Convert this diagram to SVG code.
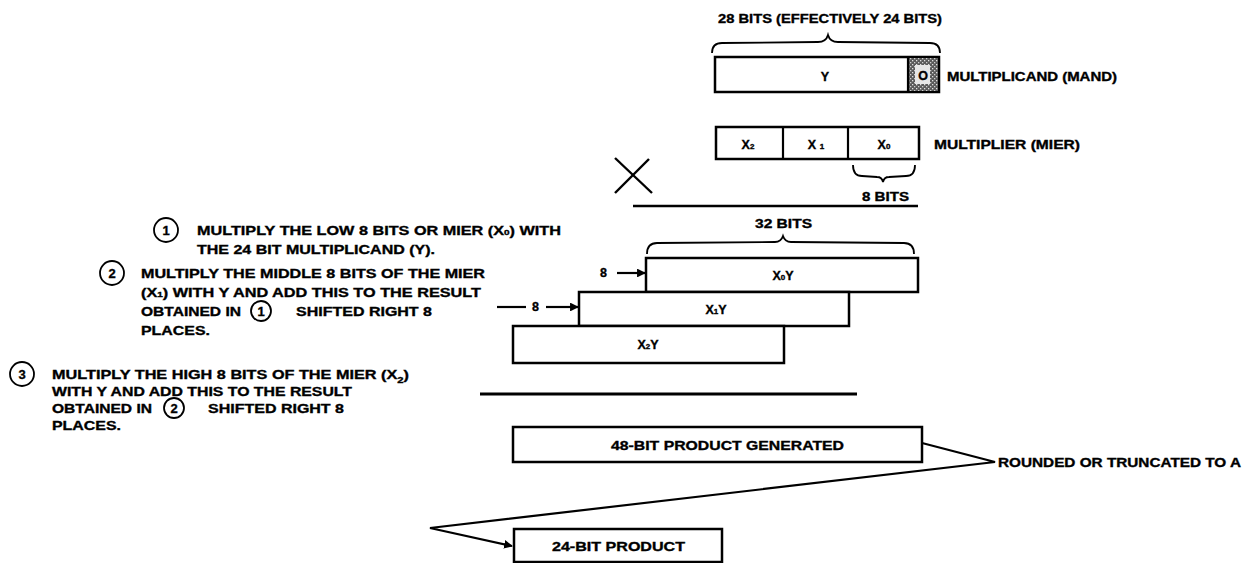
<svg xmlns="http://www.w3.org/2000/svg" width="1250" height="563" viewBox="0 0 1250 563">
<defs>
<style>
text{font-family:"Liberation Sans",Arial,sans-serif;font-weight:bold;font-size:13px;fill:#000;stroke:#000;stroke-width:0.35}
.lbl{font-size:12.5px}
.box{fill:#fff;stroke:#000;stroke-width:2.5}
.ln{fill:none;stroke:#000;stroke-width:2.2}
.thin{fill:none;stroke:#000;stroke-width:1.8}
.circ{fill:#fff;stroke:#000;stroke-width:1.8}
.mid{text-anchor:middle}
</style>
<marker id="ah" viewBox="0 0 10 10" refX="9" refY="5" markerWidth="4" markerHeight="4" orient="auto" markerUnits="strokeWidth">
<path d="M0,0 L10,5 L0,10 Z" fill="#000"/>
</marker>
<pattern id="stip" width="4" height="4" patternUnits="userSpaceOnUse">
<rect width="4" height="4" fill="#5a5a5a"/>
<rect x="0" y="0" width="1.3" height="1.3" fill="#e0e0e0"/>
<rect x="2" y="2" width="1.3" height="1.3" fill="#cfcfcf"/>
</pattern>
</defs>
<rect width="1250" height="563" fill="#fff"/>

<g id="mand">
<text class="lbl" x="718" y="23" textLength="224" lengthAdjust="spacingAndGlyphs">28 BITS (EFFECTIVELY 24 BITS)</text>
<path class="thin" d="M712,53 Q712,43 722,43 L818,42 Q826,42 828,35 Q830,42 838,42 L930,43 Q940,43 940,53"/>
<rect class="box" x="715" y="57" width="224" height="35"/>
<rect x="908" y="58" width="30" height="33" fill="url(#stip)"/>
<line class="ln" x1="908" y1="57" x2="908" y2="92"/>
<rect x="915" y="65" width="15" height="19" fill="#e6e6e6"/>
<text class="lbl mid" x="825" y="81">Y</text>
<text class="lbl mid" x="923" y="80">O</text>
<text class="lbl" x="947" y="81" textLength="170" lengthAdjust="spacingAndGlyphs">MULTIPLICAND (MAND)</text>
</g>

<g id="mier">
<rect class="box" x="716" y="127" width="203" height="32"/>
<line class="ln" x1="783" y1="127" x2="783" y2="159"/>
<line class="ln" x1="848" y1="127" x2="848" y2="159"/>
<text class="lbl mid" x="748" y="149">X<tspan font-size="8">2</tspan></text>
<text class="lbl mid" x="816" y="149">X <tspan font-size="8">1</tspan></text>
<text class="lbl mid" x="884" y="149">X<tspan font-size="8">0</tspan></text>
<text class="lbl" x="934" y="149" textLength="146" lengthAdjust="spacingAndGlyphs">MULTIPLIER (MIER)</text>
<path class="thin" d="M853,165 Q853,176 862,176 L877,177 Q882,177 883,182 Q884,177 889,177 L906,176 Q915,176 915,165"/>
<text class="lbl" x="862" y="201" textLength="47" lengthAdjust="spacingAndGlyphs">8 BITS</text>
</g>

<g id="times">
<line x1="615" y1="158" x2="652" y2="193" stroke="#000" stroke-width="2.4"/>
<line x1="649" y1="159" x2="615" y2="193" stroke="#000" stroke-width="2.4"/>
<line x1="633" y1="206" x2="918" y2="206" stroke="#000" stroke-width="2.6"/>
</g>

<g id="x0y">
<text class="lbl" x="755" y="228" textLength="57" lengthAdjust="spacingAndGlyphs">32 BITS</text>
<path class="thin" d="M647,254 Q647,243 657,243 L775,242 Q781,242 783,236 Q785,242 791,242 L904,243 Q914,243 914,254"/>
<rect class="box" x="646" y="258" width="272" height="34"/>
<text class="lbl mid" x="783" y="280">X<tspan font-size="8">0</tspan>Y</text>
</g>

<g id="x1y">
<rect class="box" x="579" y="292" width="270" height="34"/>
<text class="lbl mid" x="716" y="314">X<tspan font-size="8">1</tspan>Y</text>
</g>

<g id="x2y">
<rect class="box" x="513" y="326" width="271" height="37"/>
<text class="lbl mid" x="648" y="349">X<tspan font-size="8">2</tspan>Y</text>
</g>

<g id="sum-line">
<line x1="480" y1="394" x2="857" y2="394" stroke="#000" stroke-width="2.8"/>
</g>

<g id="p48">
<rect class="box" x="513" y="427" width="409" height="35"/>
<text class="lbl" x="611" y="450" textLength="233" lengthAdjust="spacingAndGlyphs">48-BIT PRODUCT GENERATED</text>
</g>

<g id="round-label">
<text class="lbl" x="998" y="467" textLength="243" lengthAdjust="spacingAndGlyphs">ROUNDED OR TRUNCATED TO A</text>
</g>

<g id="p24">
<rect class="box" x="514" y="529" width="208" height="33"/>
<text class="lbl" x="552" y="551" textLength="133" lengthAdjust="spacingAndGlyphs">24-BIT PRODUCT</text>
</g>

<g id="connectors">
<text class="lbl" x="600" y="277">8</text>
<line class="ln" x1="617" y1="273" x2="645" y2="273" marker-end="url(#ah)"/>
<line class="ln" x1="497" y1="307" x2="526" y2="307"/>
<text class="lbl" x="532" y="311">8</text>
<line class="ln" x1="546" y1="307" x2="578" y2="307" marker-end="url(#ah)"/>
<polyline class="ln" points="922,443 995,462 430,528 512,546" marker-end="url(#ah)"/>
</g>

<g id="step1">
<circle class="circ" cx="166" cy="230" r="12"/>
<text class="mid" x="166" y="235" font-size="12">1</text>
<text x="197" y="235" textLength="364" lengthAdjust="spacingAndGlyphs">MULTIPLY THE LOW 8 BITS OR MIER (X<tspan font-size="8">0</tspan>) WITH</text>
<text x="197" y="254" textLength="238" lengthAdjust="spacingAndGlyphs">THE 24 BIT MULTIPLICAND (Y).</text>
</g>

<g id="step2">
<circle class="circ" cx="112" cy="273" r="12"/>
<text class="mid" x="112" y="278" font-size="12">2</text>
<text x="141" y="278" textLength="344" lengthAdjust="spacingAndGlyphs">MULTIPLY THE MIDDLE 8 BITS OF THE MIER</text>
<text x="141" y="297" textLength="340" lengthAdjust="spacingAndGlyphs">(X<tspan font-size="8">1</tspan>) WITH Y AND ADD THIS TO THE RESULT</text>
<text x="141" y="316" textLength="100" lengthAdjust="spacingAndGlyphs">OBTAINED IN</text>
<circle class="circ" cx="261" cy="311" r="10"/>
<text class="mid" x="261" y="316" font-size="11">1</text>
<text x="296" y="316" textLength="136" lengthAdjust="spacingAndGlyphs">SHIFTED RIGHT 8</text>
<text x="141" y="335" textLength="69" lengthAdjust="spacingAndGlyphs">PLACES.</text>
</g>

<g id="step3">
<circle class="circ" cx="22" cy="374" r="12"/>
<text class="mid" x="22" y="379" font-size="12">3</text>
<text x="52" y="379" textLength="357" lengthAdjust="spacingAndGlyphs">MULTIPLY THE HIGH 8 BITS OF  THE MIER (X<tspan font-size="9" dy="4">2</tspan><tspan dy="-4">)</tspan></text>
<text x="52" y="396" textLength="300" lengthAdjust="spacingAndGlyphs">WITH Y AND ADD THIS TO THE RESULT</text>
<text x="52" y="413" textLength="100" lengthAdjust="spacingAndGlyphs">OBTAINED IN</text>
<circle class="circ" cx="174" cy="408" r="10"/>
<text class="mid" x="174" y="413" font-size="11">2</text>
<text x="208" y="413" textLength="136" lengthAdjust="spacingAndGlyphs">SHIFTED RIGHT 8</text>
<text x="52" y="430" textLength="69" lengthAdjust="spacingAndGlyphs">PLACES.</text>
</g>
</svg>
